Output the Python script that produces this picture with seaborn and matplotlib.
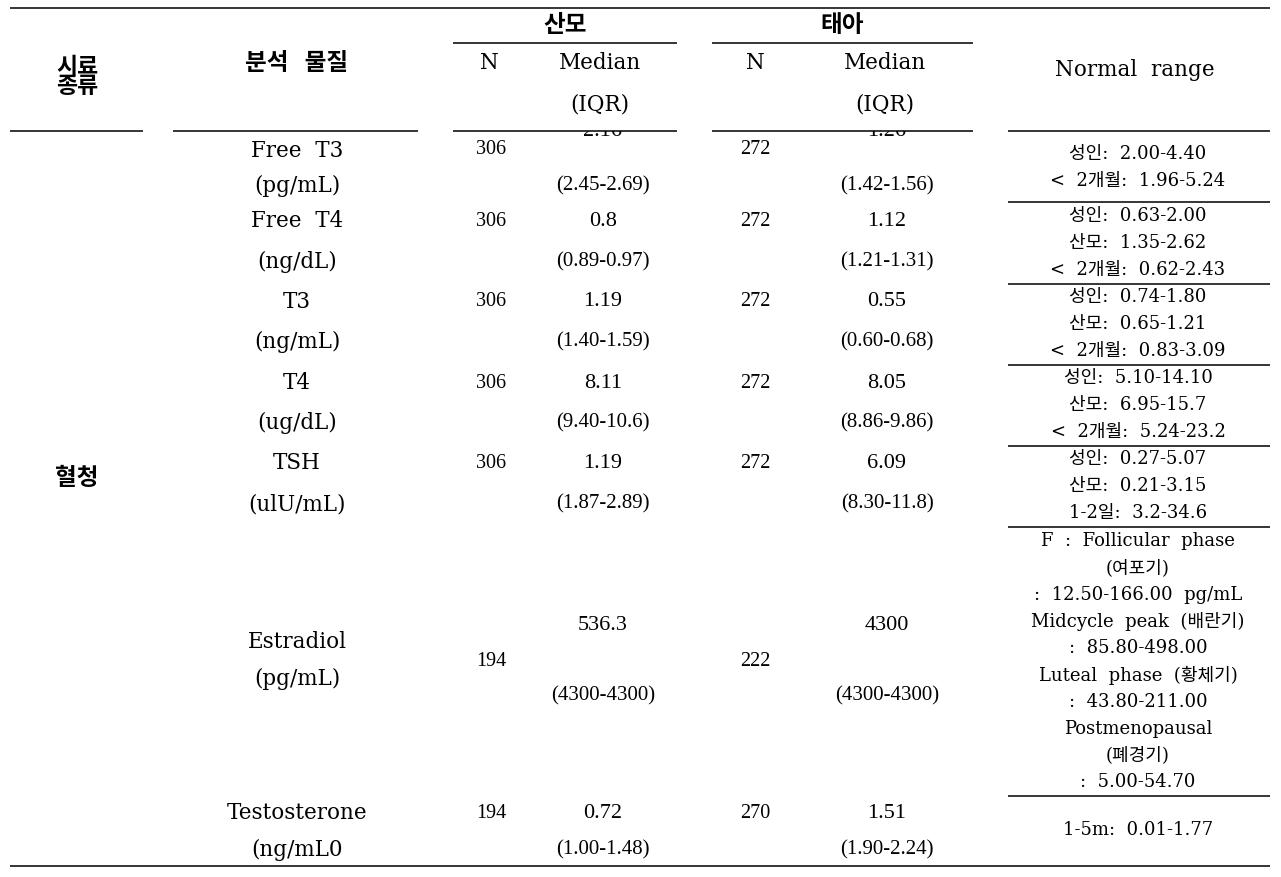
import numpy as np
import seaborn as sns
import matplotlib.pyplot as plt
from matplotlib.patches import Rectangle

# table content
analytes = ["Free  T3", "Free  T4", "T3", "T4", "TSH", "Estradiol", "Testosterone"]
units = ["(pg/mL)", "(ng/dL)", "(ng/mL)", "(ug/dL)", "(ulU/mL)", "(pg/mL)", "(ng/mL0"]
mother_n = [306, 306, 306, 306, 306, 194, 194]
mother_median = ["2.16", "0.8", "1.19", "8.11", "1.19", "536.3", "0.72"]
mother_iqr = ["(2.45-2.69)", "(0.89-0.97)", "(1.40-1.59)", "(9.40-10.6)",
              "(1.87-2.89)", "(4300-4300)", "(1.00-1.48)"]
fetus_n = [272, 272, 272, 272, 272, 222, 270]
fetus_median = ["1.26", "1.12", "0.55", "8.05", "6.09", "4300", "1.51"]
fetus_iqr = ["(1.42-1.56)", "(1.21-1.31)", "(0.60-0.68)", "(8.86-9.86)",
             "(8.30-11.8)", "(4300-4300)", "(1.90-2.24)"]
normal_range = [
    ["성인:  2.00-4.40", "<  2개월:  1.96-5.24"],
    ["성인:  0.63-2.00", "산모:  1.35-2.62", "<  2개월:  0.62-2.43"],
    ["성인:  0.74-1.80", "산모:  0.65-1.21", "<  2개월:  0.83-3.09"],
    ["성인:  5.10-14.10", "산모:  6.95-15.7", "<  2개월:  5.24-23.2"],
    ["성인:  0.27-5.07", "산모:  0.21-3.15", "1-2일:  3.2-34.6"],
    ["F  :  Follicular  phase", "(여포기)", ":  12.50-166.00  pg/mL",
     "Midcycle  peak  (배란기)", ":  85.80-498.00", "Luteal  phase  (황체기)",
     ":  43.80-211.00", "Postmenopausal", "(폐경기)", ":  5.00-54.70"],
    ["1-5m:  0.01-1.77"],
]
sample_type = "혈청"

sns.set_theme(style="white")
SERIF = ['DejaVu Serif', 'Noto Sans CJK KR']
NUM = ['Liberation Serif', 'DejaVu Serif']
KR = ['Noto Sans CJK KR']
plt.rcParams['font.family'] = SERIF

W, H = 1281, 877
fig = plt.figure(figsize=(W / 100, H / 100), dpi=100)
ax = fig.add_axes([0, 0, 1, 1])
ax.set_xlim(0, W)
ax.set_ylim(H, 0)
ax.axis('off')

def hline(y, x0, x1, lw=1.1):
    ax.plot([x0, x1], [y, y], color='black', lw=lw, solid_capstyle='butt', zorder=5)

def txt(x, y, s, size=13, weight='normal', family=SERIF, **kw):
    return ax.text(x, y, s, ha='center', va='center', fontsize=size,
                   fontweight=weight, color='black', family=family, **kw)

# rules
hline(8, 10, 1270)
hline(43, 453, 677)
hline(43, 712, 973)
for x0, x1 in [(10, 143), (173, 418), (453, 677), (712, 973), (1008, 1270)]:
    hline(131, x0, x1)
for y in [202, 284, 365, 446, 527, 796]:
    hline(y, 1008, 1270)
hline(866, 10, 1270)

# header
txt(565, 25, "산모", 17, 'bold', KR)
txt(842, 25, "태아", 17, 'bold', KR)
txt(77, 77, "시료\n종류", 16.5, 'bold', KR, linespacing=0.8)
txt(297, 63, "분석   물질", 17, 'bold', KR)
for xn, xm in [(489, 600), (755, 885)]:
    txt(xn, 63, "N", 15.5)
    txt(xm, 63, "Median", 15.5)
    txt(xm, 105, "(IQR)", 15.5)
txt(1135, 70, "Normal  range", 15.5)

txt(77, 478, sample_type, 17, 'bold', KR)

# body rows
name_y = [151, 221, 302, 383, 463, 642, 813]
unit_y = [186, 262, 342, 423, 504, 679, 850]
n_y = [150, 221, 302, 383, 463, 661, 813]
med_y = [131, 221, 302, 383, 463, 626, 813]
iqr_y = [186, 262, 342, 423, 504, 696, 850]
nr_y = [154, 216, 297, 378, 459, 541, 830]
nr_step = 26.8

for i in range(len(analytes)):
    txt(297, name_y[i], analytes[i], 15.5)
    txt(297, unit_y[i], units[i], 15.5)
    txt(491, n_y[i], str(mother_n[i]), 14.5, family=NUM)
    txt(603, med_y[i], mother_median[i], 16, family=NUM)
    txt(603, iqr_y[i], mother_iqr[i], 15, family=NUM)
    txt(755, n_y[i], str(fetus_n[i]), 14.5, family=NUM)
    txt(887, med_y[i], fetus_median[i], 16, family=NUM)
    txt(887, iqr_y[i], fetus_iqr[i], 15, family=NUM)
    for k, line in enumerate(normal_range[i]):
        txt(1138, nr_y[i] + k * nr_step, line, 13)

# the first median values are cut by the header rule in the original
for xc in (603, 887):
    ax.add_patch(Rectangle((xc - 45, 117.5), 90, 13.5, facecolor='white',
                           edgecolor='none', zorder=4))

fig.savefig("out.png", dpi=100)
